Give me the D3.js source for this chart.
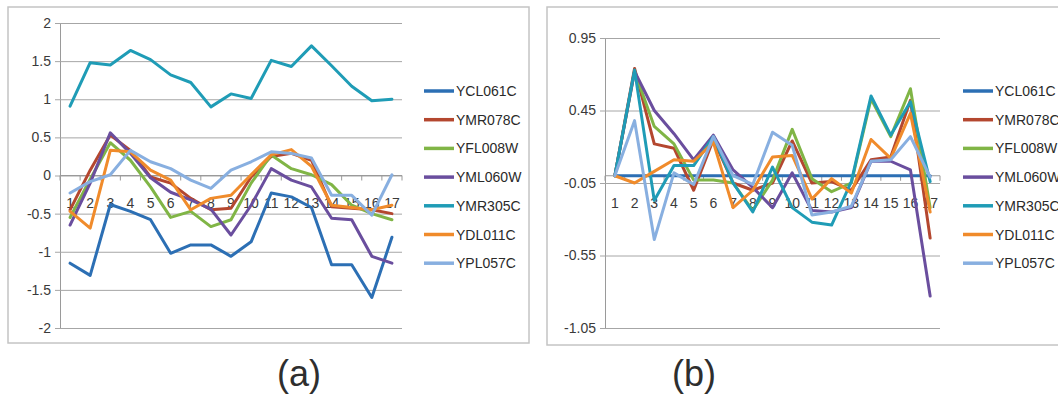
<!DOCTYPE html>
<html>
<head>
<meta charset="utf-8">
<script src="https://cdn.jsdelivr.net/npm/d3@7"></script>
<style>
  html, body { margin: 0; padding: 0; background: #fff; }
  svg { display: block; font-family: "Liberation Sans", Arial, sans-serif; }
</style>
</head>
<body>
<svg id="chart" width="1058" height="394"></svg>
<script>
// Categories (time points) shared by both panels
const categories = ["1","2","3","4","5","6","7","8","9","10","11","12","13","14","15","16","17"];
const seriesNames = ["YCL061C","YMR078C","YFL008W","YML060W","YMR305C","YDL011C","YPL057C"];
const seriesColors = ["#2c6fb4","#b4472f","#80b546","#6a4e9e","#1f9cb6","#f08b2b","#88afe0"];

// Panel (a) values
const aYCL061C = [-1.15,-1.31,-0.38,-0.47,-0.58,-1.02,-0.91,-0.91,-1.06,-0.87,-0.23,-0.28,-0.42,-1.17,-1.17,-1.60,-0.81];
const aYMR078C = [-0.45,0.07,0.53,0.33,-0.02,-0.10,-0.30,-0.45,-0.43,-0.02,0.25,0.29,0.20,-0.41,-0.43,-0.45,-0.50];
const aYFL008W = [-0.55,-0.05,0.43,0.20,-0.15,-0.55,-0.47,-0.67,-0.58,-0.10,0.27,0.09,0.01,-0.12,-0.39,-0.50,-0.58];
const aYML060W = [-0.65,-0.10,0.56,0.29,-0.03,-0.22,-0.32,-0.44,-0.78,-0.39,0.09,-0.06,-0.15,-0.56,-0.58,-1.06,-1.15];
const aYMR305C = [0.91,1.48,1.45,1.64,1.52,1.32,1.22,0.90,1.07,1.01,1.51,1.43,1.70,1.44,1.17,0.98,1.00];
const aYDL011C = [-0.47,-0.69,0.33,0.31,0.07,-0.06,-0.45,-0.30,-0.26,0.01,0.27,0.34,0.12,-0.39,-0.42,-0.45,-0.39];
const aYPL057C = [-0.23,-0.08,0.01,0.33,0.18,0.09,-0.06,-0.17,0.07,0.18,0.31,0.29,0.23,-0.26,-0.26,-0.52,0.01];

// Panel (b) values
const bYCL061C = [0,0,0,0,0,0,0,0,0,0,0,0,0,0,0,0,0];
const bYMR078C = [0,0.74,0.22,0.19,-0.10,0.25,-0.05,-0.10,-0.05,0.24,-0.05,-0.04,-0.10,0.11,0.13,0.52,-0.43];
const bYFL008W = [0,0.72,0.34,0.22,-0.03,-0.03,-0.05,-0.24,-0.03,0.32,-0.02,-0.11,-0.05,0.53,0.27,0.60,-0.22];
const bYML060W = [0,0.72,0.45,0.29,0.11,0.28,0.04,-0.08,-0.22,0.02,-0.24,-0.25,-0.22,0.10,0.10,0.04,-0.83];
const bYMR305C = [0,0.73,-0.17,0.07,0.07,0.27,-0.05,-0.25,0.06,-0.22,-0.32,-0.34,-0.04,0.55,0.28,0.51,-0.04];
const bYDL011C = [0,-0.05,0.03,0.11,0.10,0.23,-0.22,-0.10,0.13,0.14,-0.16,-0.02,-0.12,0.25,0.12,0.43,-0.25];
const bYPL057C = [0,0.38,-0.44,0.02,-0.06,0.27,0.00,-0.06,0.30,0.21,-0.27,-0.25,-0.21,0.10,0.11,0.27,-0.01];

// Value-axis tick labels
const yTicksA = [2,1.5,1,0.5,0,-0.5,-1,-1.5,-2];
const yTicksB = [0.95,0.45,-0.05,-0.55,-1.05];

const svg = d3.select("#chart");
svg.append("rect").attr("width",1058).attr("height",394).attr("fill","#ffffff");

function drawPanel(opt) {
  const g = svg.append("g");
  // frame around the panel
  g.append("rect")
    .attr("x", opt.frame[0]).attr("y", opt.frame[1])
    .attr("width", opt.frame[2]).attr("height", opt.frame[3])
    .attr("fill", "none").attr("stroke", "#c4c4c4").attr("stroke-width", 1.5);

  const x = d3.scaleBand().domain(categories).range([opt.left, opt.right]).padding(0);
  const y = d3.scaleLinear().domain(opt.yDomain).range([opt.bottom, opt.top]);
  const cx = c => x(c) + x.bandwidth() / 2;

  // horizontal gridlines + value axis
  const yAxis = d3.axisLeft(y).tickValues(opt.yTicks)
    .tickSize(-(opt.right - opt.left)).tickPadding(9)
    .tickFormat(d => String(d));
  const ya = g.append("g").attr("transform", `translate(${opt.left},0)`).call(yAxis);
  ya.select(".domain").attr("stroke", "#9a9a9a").attr("stroke-width", 1);
  ya.selectAll(".tick line").attr("stroke", "#a6a6a6").attr("stroke-width", 1)
    .attr("x1", -5);
  ya.selectAll(".tick text").attr("fill", "#3a3a3a").style("font-size", "14px");

  // category axis drawn at value 0
  const y0 = y(opt.axisAt);
  g.append("line").attr("x1", opt.left).attr("x2", opt.right)
    .attr("y1", y0).attr("y2", y0).attr("stroke", "#9a9a9a").attr("stroke-width", 1);
  const bounds = categories.map(c => x(c)).concat([opt.right]);
  g.selectAll(".ctick").data(bounds).enter().append("line")
    .attr("x1", d => d).attr("x2", d => d)
    .attr("y1", y0).attr("y2", y0 + 5)
    .attr("stroke", "#9a9a9a").attr("stroke-width", 1);
  g.selectAll(".clabel").data(categories).enter().append("text")
    .attr("x", d => cx(d)).attr("y", y0 + 32)
    .attr("text-anchor", "middle").attr("fill", "#3a3a3a")
    .style("font-size", "14px").text(d => d);

  // series lines
  const line = d3.line().x((d, i) => cx(categories[i])).y(d => y(d)).curve(d3.curveLinear);
  opt.series.forEach((vals, k) => {
    g.append("path").datum(vals)
      .attr("d", line).attr("fill", "none")
      .attr("stroke", seriesColors[k]).attr("stroke-width", 3)
      .attr("stroke-linejoin", "round").attr("stroke-linecap", "round");
  });

  // legend
  const lg = g.append("g");
  seriesNames.forEach((name, k) => {
    const ly = opt.legendY + k * 28.7;
    lg.append("line").attr("x1", opt.legendX).attr("x2", opt.legendX + 30)
      .attr("y1", ly).attr("y2", ly)
      .attr("stroke", seriesColors[k]).attr("stroke-width", 3.5);
    lg.append("text").attr("x", opt.legendX + 32).attr("y", ly + 5)
      .attr("fill", "#2a2a2a").style("font-size", "14px").text(name);
  });

  // panel caption
  svg.append("text").attr("x", opt.captionX).attr("y", 386)
    .attr("text-anchor", "middle").attr("fill", "#2e2e2e")
    .style("font-size", "36px").text(opt.caption);
}

drawPanel({
  frame: [8, 7, 521, 336],
  left: 60, right: 402, top: 23, bottom: 328,
  yDomain: [-2, 2], yTicks: yTicksA, axisAt: 0,
  series: [aYCL061C, aYMR078C, aYFL008W, aYML060W, aYMR305C, aYDL011C, aYPL057C],
  legendX: 424, legendY: 91,
  caption: "(a)", captionX: 299
});

drawPanel({
  frame: [547, 7, 520, 338],
  left: 605, right: 940, top: 38, bottom: 328,
  yDomain: [-1.05, 0.95], yTicks: yTicksB, axisAt: 0,
  series: [bYCL061C, bYMR078C, bYFL008W, bYML060W, bYMR305C, bYDL011C, bYPL057C],
  legendX: 963, legendY: 91,
  caption: "(b)", captionX: 694
});
</script>
</body>
</html>
